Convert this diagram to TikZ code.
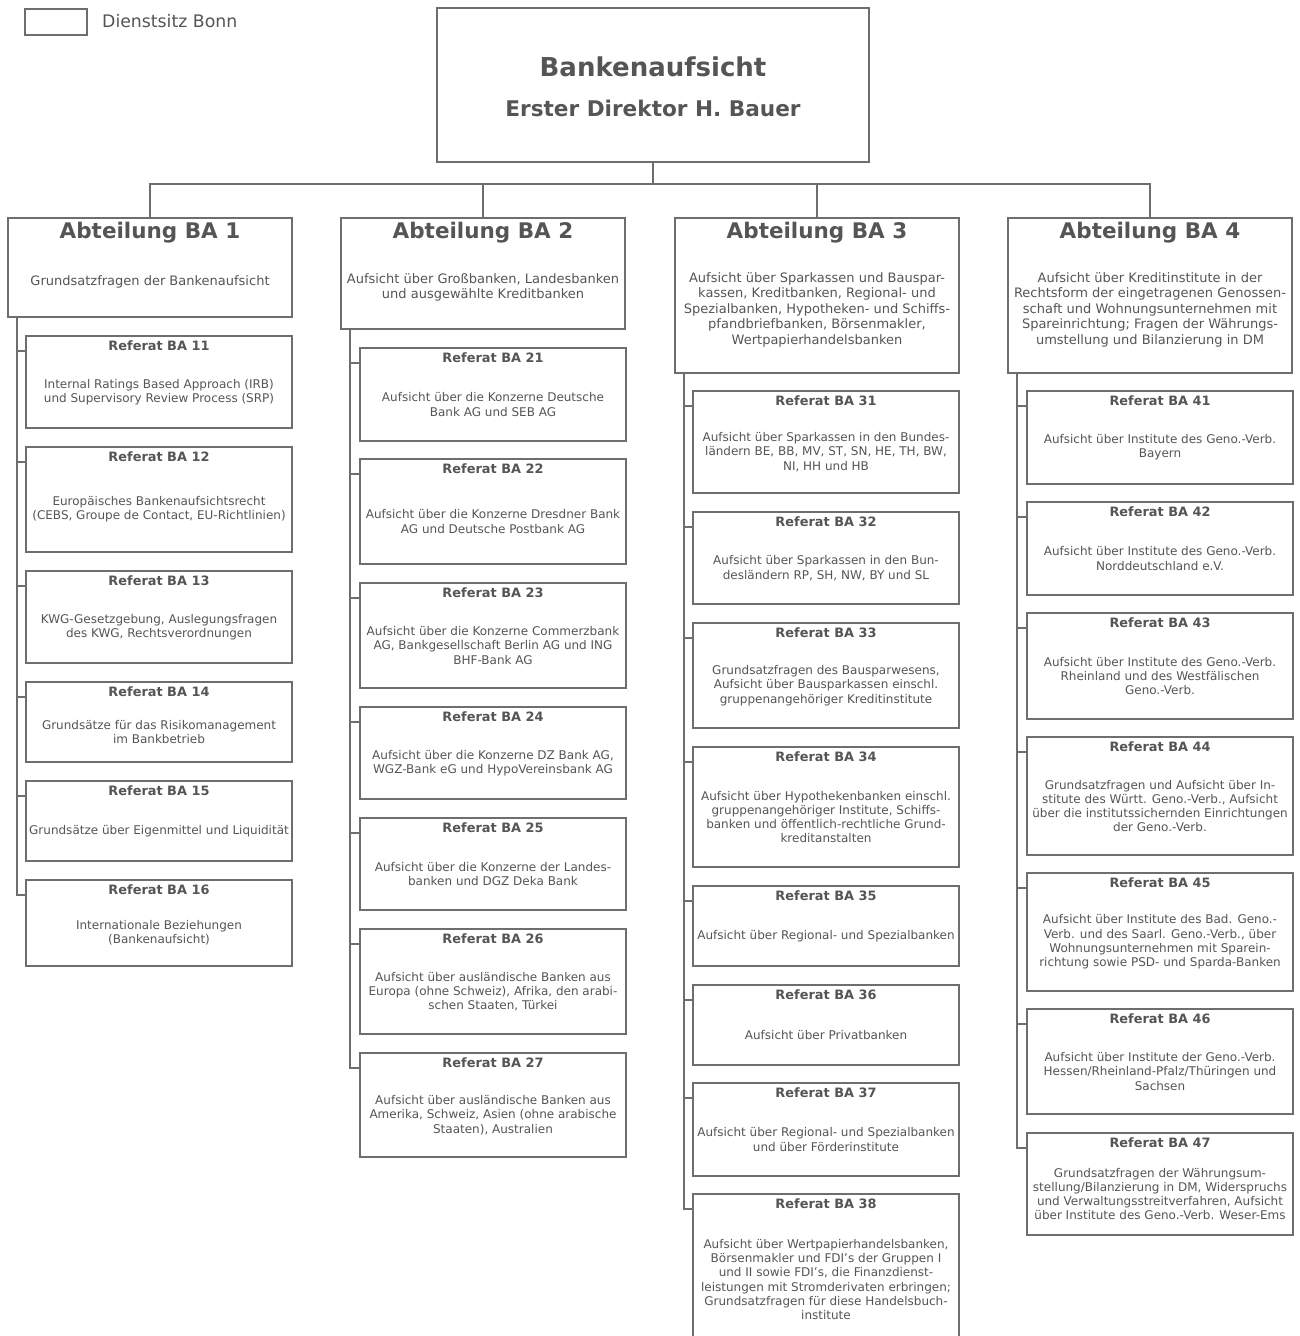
\documentclass[tikz,border=0pt]{standalone}
\usepackage{fontspec}
\setmainfont{DejaVu Sans}
\usetikzlibrary{calc}
\definecolor{linegray}{HTML}{6E6E6E}
\definecolor{txtgray}{HTML}{555555}
\tikzset{
  conn/.style={draw=linegray, line width=1.2pt},
  boxst/.style={draw=linegray, line width=1.4pt, fill=white, rectangle, inner sep=0pt, outer sep=0pt, anchor=north west},
  rtitle/.style={text=txtgray, font=\bfseries\fontsize{12.9}{15}\selectfont, inner sep=0pt},
  rbody/.style={text=txtgray, font=\fontsize{12}{14.3}\selectfont, align=center, inner sep=0pt},
  atitle/.style={text=txtgray, font=\bfseries\fontsize{21.5}{25}\selectfont, inner sep=0pt},
  abody/.style={text=txtgray, font=\fontsize{13}{15.5}\selectfont, align=center, inner sep=0pt},
}
% #1 name, #2 x, #3 ytop, #4 ybottom, #5 title, #6 body
\newcommand{\refbox}[6]{%
  \node[boxst, minimum width=266pt, minimum height={(#4-#3)*1pt}] (#1) at (#2,#3) {};
  \node[rtitle] (#1t) at ({#2+133},{#3+10}) {#5};
  \node[rbody] (#1b) at ({#2+133},{(#3+20+#4)/2}) {#6};
}
\newcommand{\abtbox}[6]{%
  \node[boxst, minimum width=284pt, minimum height={(#4-#3)*1pt}] (#1) at (#2,#3) {};
  \node[atitle] (#1t) at ({#2+142},{#3+15}) {#5};
  \node[abody] (#1b) at ({#2+142},{(#3+28+#4)/2}) {#6};
}
\begin{document}
\begin{tikzpicture}[x=1pt, y=-1pt]
\useasboundingbox (0,0) rectangle (1299,1336);

% legend
\node[boxst, minimum width=62pt, minimum height=26pt] (leg) at (25,9) {};
\node[text=txtgray, font=\fontsize{17.3}{20}\selectfont, anchor=west, inner sep=0pt] (legt) at (102,21) {Dienstsitz Bonn};

% top
\node[boxst, minimum width=432pt, minimum height=154pt] (top) at (437,8) {};
\node[text=txtgray, font=\bfseries\fontsize{26}{30}\selectfont, inner sep=0pt] (topt) at (653,67) {Bankenaufsicht};
\node[text=txtgray, font=\bfseries\fontsize{21.6}{25}\selectfont, inner sep=0pt] (tops) at (653,108) {Erster Direktor H. Bauer};

% Abteilungen
\abtbox{a1}{8}{218}{317}{Abteilung BA 1}{Grundsatzfragen der Bankenaufsicht}
\abtbox{a2}{341}{218}{329}{Abteilung BA 2}{Aufsicht über Großbanken, Landesbanken\\und ausgewählte Kreditbanken}
\abtbox{a3}{675}{218}{373}{Abteilung BA 3}{Aufsicht über Sparkassen und Bauspar-\\kassen, Kreditbanken, Regional- und\\Spezialbanken, Hypotheken- und Schiffs-\\pfandbriefbanken, Börsenmakler,\\Wertpapierhandelsbanken}
\abtbox{a4}{1008}{218}{373}{Abteilung BA 4}{Aufsicht über Kreditinstitute in der\\Rechtsform der eingetragenen Genossen-\\schaft und Wohnungsunternehmen mit\\Spareinrichtung; Fragen der Währungs-\\umstellung und Bilanzierung in DM}

\coordinate (bus) at (653,184);
\draw[conn] (top.south) -- (bus);
\foreach \a in {a1,a2,a3,a4} { \draw[conn] (\a.north) |- (bus); }

% Referate BA 1
\refbox{r11}{26}{336}{428}{Referat BA 11}{Internal Ratings Based Approach (IRB)\\und Supervisory Review Process (SRP)}
\refbox{r12}{26}{447}{552}{Referat BA 12}{Europäisches Bankenaufsichtsrecht\\(CEBS, Groupe de Contact, EU-Richtlinien)}
\refbox{r13}{26}{571}{663}{Referat BA 13}{KWG-Gesetzgebung, Auslegungsfragen\\des KWG, Rechtsverordnungen}
\refbox{r14}{26}{682}{762}{Referat BA 14}{Grundsätze für das Risikomanagement\\im Bankbetrieb}
\refbox{r15}{26}{781}{861}{Referat BA 15}{Grundsätze über Eigenmittel und Liquidität}
\refbox{r16}{26}{880}{966}{Referat BA 16}{Internationale Beziehungen\\(Bankenaufsicht)}

% Referate BA 2
\refbox{r21}{360}{348}{441}{Referat BA 21}{Aufsicht über die Konzerne Deutsche\\Bank AG und SEB AG}
\refbox{r22}{360}{459}{564}{Referat BA 22}{Aufsicht über die Konzerne Dresdner Bank\\AG und Deutsche Postbank AG}
\refbox{r23}{360}{583}{688}{Referat BA 23}{Aufsicht über die Konzerne Commerzbank\\AG, Bankgesellschaft Berlin AG und ING\\BHF-Bank AG}
\refbox{r24}{360}{707}{799}{Referat BA 24}{Aufsicht über die Konzerne DZ Bank AG,\\WGZ-Bank eG und HypoVereinsbank AG}
\refbox{r25}{360}{818}{910}{Referat BA 25}{Aufsicht über die Konzerne der Landes-\\banken und DGZ Deka Bank}
\refbox{r26}{360}{929}{1034}{Referat BA 26}{Aufsicht über ausländische Banken aus\\Europa (ohne Schweiz), Afrika, den arabi-\\schen Staaten, Türkei}
\refbox{r27}{360}{1053}{1157}{Referat BA 27}{Aufsicht über ausländische Banken aus\\Amerika, Schweiz, Asien (ohne arabische\\Staaten), Australien}

% Referate BA 3
\refbox{r31}{693}{391}{493}{Referat BA 31}{Aufsicht über Sparkassen in den Bundes-\\ländern BE, BB, MV, ST, SN, HE, TH, BW,\\NI, HH und HB}
\refbox{r32}{693}{512}{604}{Referat BA 32}{Aufsicht über Sparkassen in den Bun-\\desländern RP, SH, NW, BY und SL}
\refbox{r33}{693}{623}{728}{Referat BA 33}{Grundsatzfragen des Bausparwesens,\\Aufsicht über Bausparkassen einschl.\\gruppenangehöriger Kreditinstitute}
\refbox{r34}{693}{747}{867}{Referat BA 34}{Aufsicht über Hypothekenbanken einschl.\\gruppenangehöriger Institute, Schiffs-\\banken und öffentlich-rechtliche Grund-\\kreditanstalten}
\refbox{r35}{693}{886}{966}{Referat BA 35}{Aufsicht über Regional- und Spezialbanken}
\refbox{r36}{693}{985}{1065}{Referat BA 36}{Aufsicht über Privatbanken}
\refbox{r37}{693}{1083}{1176}{Referat BA 37}{Aufsicht über Regional- und Spezialbanken\\und über Förderinstitute}
\refbox{r38}{693}{1194}{1345}{Referat BA 38}{Aufsicht über Wertpapierhandelsbanken,\\Börsenmakler und FDI’s der Gruppen I\\und II sowie FDI’s, die Finanzdienst-\\leistungen mit Stromderivaten erbringen;\\Grundsatzfragen für diese Handelsbuch-\\institute}

% Referate BA 4
\refbox{r41}{1027}{391}{484}{Referat BA 41}{Aufsicht über Institute des Geno.-Verb.\\Bayern}
\refbox{r42}{1027}{502}{595}{Referat BA 42}{Aufsicht über Institute des Geno.-Verb.\\Norddeutschland e.V.}
\refbox{r43}{1027}{613}{719}{Referat BA 43}{Aufsicht über Institute des Geno.-Verb.\\Rheinland und des Westfälischen\\Geno.-Verb.}
\refbox{r44}{1027}{737}{855}{Referat BA 44}{Grundsatzfragen und Aufsicht über In-\\stitute des Württ. Geno.-Verb., Aufsicht\\über die institutssichernden Einrichtungen\\der Geno.-Verb.}
\refbox{r45}{1027}{873}{991}{Referat BA 45}{Aufsicht über Institute des Bad. Geno.-\\Verb. und des Saarl. Geno.-Verb., über\\Wohnungsunternehmen mit Sparein-\\richtung sowie PSD- und Sparda-Banken}
\refbox{r46}{1027}{1009}{1114}{Referat BA 46}{Aufsicht über Institute der Geno.-Verb.\\Hessen/Rheinland-Pfalz/Thüringen und\\Sachsen}
\refbox{r47}{1027}{1133}{1235}{Referat BA 47}{Grundsatzfragen der Währungsum-\\stellung/Bilanzierung in DM, Widerspruchs\\und Verwaltungsstreitverfahren, Aufsicht\\über Institute des Geno.-Verb. Weser-Ems}

% branch connectors
\foreach \r in {r11,r12,r13,r14,r15,r16} { \draw[conn] ([xshift=9pt]a1.south west) |- ([yshift=-15pt]\r.north west); }
\foreach \r in {r21,r22,r23,r24,r25,r26,r27} { \draw[conn] ([xshift=9pt]a2.south west) |- ([yshift=-15pt]\r.north west); }
\foreach \r in {r31,r32,r33,r34,r35,r36,r37,r38} { \draw[conn] ([xshift=9pt]a3.south west) |- ([yshift=-15pt]\r.north west); }
\foreach \r in {r41,r42,r43,r44,r45,r46,r47} { \draw[conn] ([xshift=9pt]a4.south west) |- ([yshift=-15pt]\r.north west); }
\end{tikzpicture}
\end{document}
